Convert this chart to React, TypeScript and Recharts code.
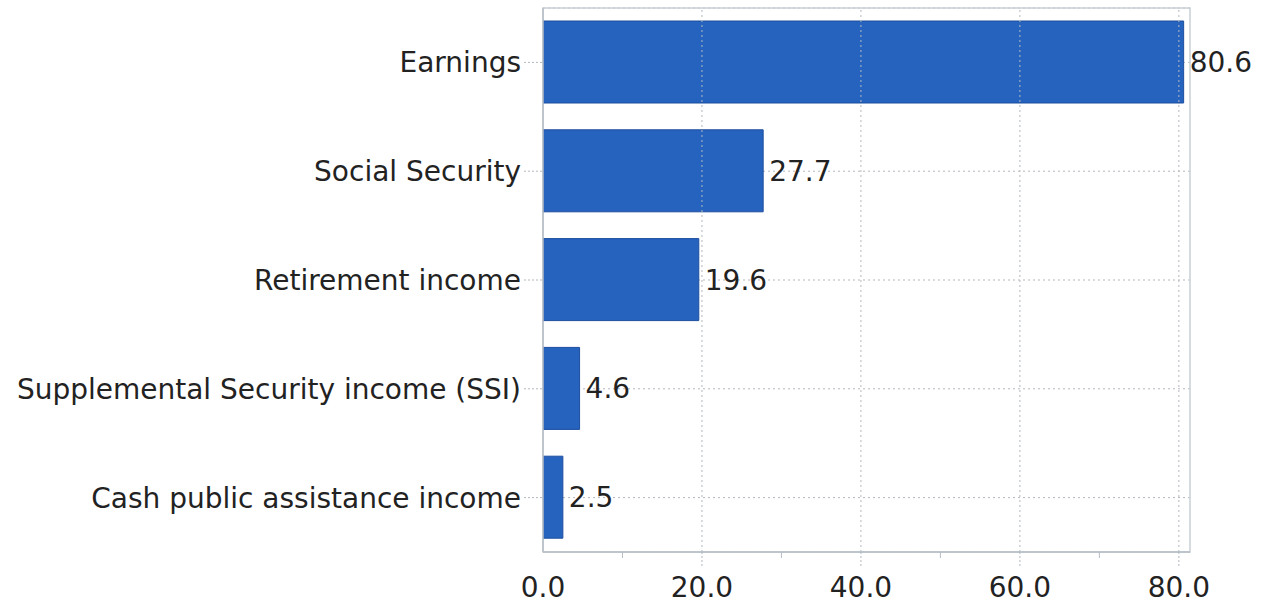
import React from "react";
import {
  BarChart,
  Bar,
  XAxis,
  YAxis,
  CartesianGrid,
  ReferenceLine,
  ReferenceArea,
  LabelList,
} from "recharts";

const categories = [
  "Earnings",
  "Social Security",
  "Retirement income",
  "Supplemental Security income (SSI)",
  "Cash public assistance income",
];
const values = [80.6, 27.7, 19.6, 4.6, 2.5];
const xTicks = [0, 10, 20, 30, 40, 50, 60, 70, 80];
const majorGrid = [20, 40, 60, 80];
const xMax = 81.4;

const data = categories.map((name, i) => ({ name, value: values[i] }));

const FONT = "'DejaVu Sans', Verdana, sans-serif";
const AXIS = "#b7bec6";
const GRID = "#b3b8be";
const TEXT = "#222222";

const XTick = (props: any) => {
  const { x, y, payload } = props;
  const v = payload.value as number;
  const major = v % 20 === 0;
  return (
    <g>
      {major && v !== 0 ? (
        <line x1={x} x2={x} y1={y} y2={y + 15} stroke={GRID} strokeDasharray="2 2" />
      ) : null}
      {!major ? <line x1={x} x2={x} y1={y} y2={y + 6} stroke={AXIS} /> : null}
      {major ? (
        <text x={x} y={y + 45} textAnchor="middle" fill={TEXT} fontSize={28} fontFamily={FONT}>
          {v.toFixed(1)}
        </text>
      ) : null}
    </g>
  );
};

export default function App() {
  return (
    <div style={{ position: "absolute", left: 0, top: 0, width: 1268, height: 608, background: "#fff" }}>
      <BarChart
        width={1268}
        height={608}
        data={data}
        layout="vertical"
        margin={{ top: 8, right: 78, bottom: 0, left: 0 }}
        barSize={82}
      >
        <CartesianGrid vertical={false} stroke={GRID} strokeDasharray="2 3" />
        <ReferenceArea x1={0} x2={xMax} fill="none" stroke="#c9cfd6" strokeWidth={1.5} ifOverflow="visible" />
        {majorGrid.map((g) => (
          <ReferenceLine key={g} x={g} stroke={GRID} strokeDasharray="2 3" />
        ))}
        <XAxis
          type="number"
          domain={[0, xMax]}
          ticks={xTicks}
          interval={0}
          height={56}
          tickSize={0}
          tickMargin={0}
          tickLine={false}
          axisLine={{ stroke: AXIS, strokeWidth: 1.5 }}
          tick={<XTick />}
          allowDataOverflow
        />
        <YAxis
          type="category"
          dataKey="name"
          width={543}
          interval={0}
          tickSize={19}
          tickMargin={3}
          tickLine={{ stroke: GRID, strokeDasharray: "2 2" }}
          axisLine={{ stroke: AXIS, strokeWidth: 1.5 }}
          tick={{ fill: TEXT, fontSize: 28, fontFamily: FONT }}
        />
        <Bar dataKey="value" fill="#2563BE" stroke="#1D4E9E" strokeWidth={1} isAnimationActive={false}>
          <LabelList
            dataKey="value"
            position="right"
            offset={6}
            formatter={(v: any) => Number(v).toFixed(1)}
            style={{ fill: TEXT, fontSize: 28, fontFamily: FONT }}
          />
        </Bar>
      </BarChart>
    </div>
  );
}
